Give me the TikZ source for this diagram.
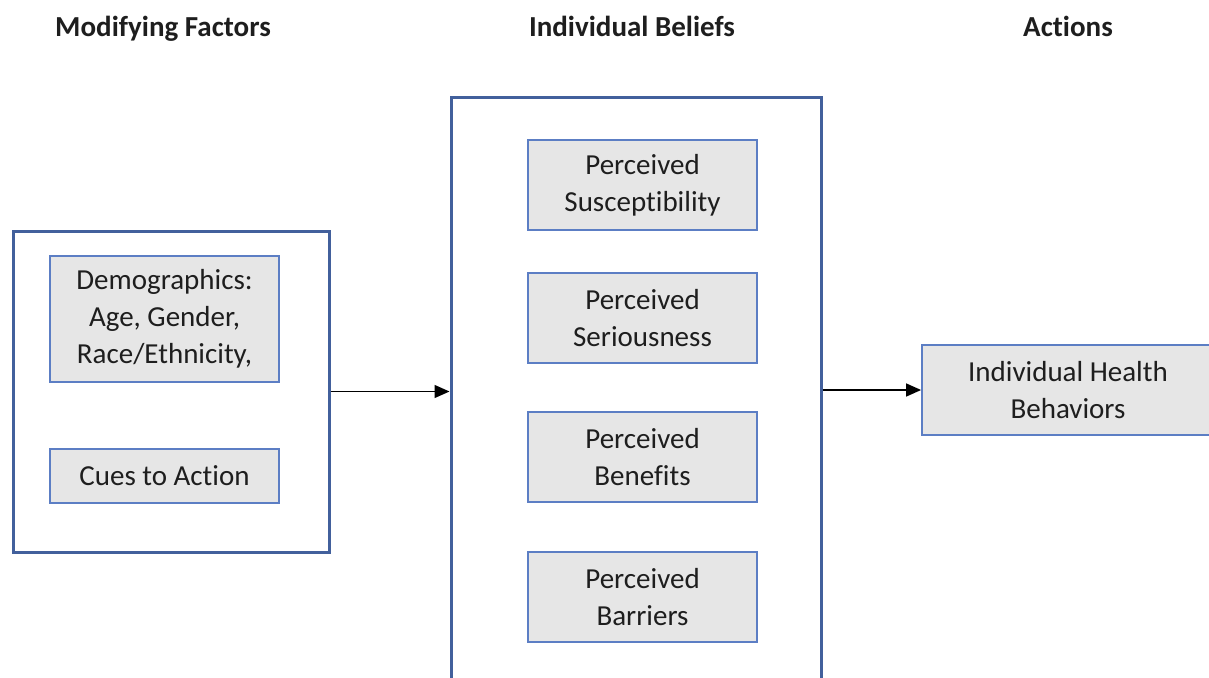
\documentclass[tikz,border=0pt]{standalone}
\usepackage{fontspec}
\setmainfont{Carlito}[Ligatures=NoCommon]
\usetikzlibrary{arrows.meta}
\definecolor{outerblue}{RGB}{66,96,156}
\definecolor{innerblue}{RGB}{92,126,196}
\definecolor{boxgray}{RGB}{230,230,230}
\definecolor{txt}{RGB}{30,30,30}
\tikzset{
  outerbox/.style={draw=outerblue, line width=3pt, fill=white, inner sep=0pt},
  innerbox/.style={draw=innerblue, line width=1.8pt, fill=boxgray, inner sep=0pt, align=center,
    text=txt, font=\fontsize{29}{37}\selectfont},
  header/.style={font=\fontsize{29}{32}\selectfont\bfseries, text=txt, anchor=base},
  conn/.style={line width=1.4pt, -{Triangle[length=15pt,width=13pt]}}
}
\begin{document}
\begin{tikzpicture}[x=1pt,y=-1pt]
\useasboundingbox (0,0) rectangle (1209,677);
\clip (0,0) rectangle (1209,677);
% headers
\node[header] (h1) at (163,37) {Modifying Factors};
\node[header] (h2) at (632,37) {Individual Beliefs};
\node[header] (h3) at (1068,37) {Actions};
% left outer box
\node[outerbox, minimum width=316pt, minimum height=321pt] (lbox) at (171,391.5) {};
\node[innerbox, minimum width=229pt, minimum height=126pt] (demo) at (164.5,319) {Demographics:\\Age, Gender,\\Race/Ethnicity,};
\node[innerbox, minimum width=229pt, minimum height=54pt] (cues) at (164.5,476) {Cues to Action};
% center outer box (extends past bottom)
\node[outerbox, minimum width=370pt, minimum height=620pt] (cbox) at (636,407) {};
\node[innerbox, minimum width=229pt, minimum height=90pt] (sus) at (642.5,185) {Perceived\\Susceptibility};
\node[innerbox, minimum width=229pt, minimum height=90pt] (ser) at (642.5,318) {Perceived\\Seriousness};
\node[innerbox, minimum width=229pt, minimum height=90pt] (ben) at (642.5,457) {Perceived\\Benefits};
\node[innerbox, minimum width=229pt, minimum height=90pt] (bar) at (642.5,597) {Perceived\\Barriers};
% actions box (extends past right edge)
\node[innerbox, minimum width=300pt, minimum height=90pt, text width=300pt] (act) at (1072,390) {};
\node[text=txt, font=\fontsize{29}{37}\selectfont, align=center] (actlbl) at (1068,390) {Individual Health\\Behaviors};
% connectors
\draw[conn] (lbox.east) -- (cbox.west |- lbox.east);
\draw[conn] (cbox.east |- act.west) -- (act.west);
\end{tikzpicture}
\end{document}
